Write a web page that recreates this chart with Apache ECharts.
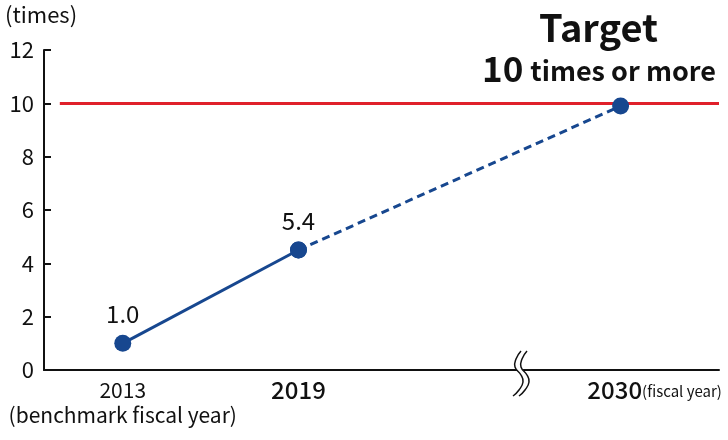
<!DOCTYPE html>
<html><head><meta charset="utf-8">
<script src="https://cdn.jsdelivr.net/npm/echarts@6/dist/echarts.min.js"></script>
<style>html,body{margin:0;padding:0;background:#fff}#c{width:728px;height:440px}</style>
</head><body><div id="c"></div>
<script>
const years = [2013, 2019, 2030];
const values = [1.0, 4.5, 9.9];
const pointLabels = ['1.0', '5.4', ''];
const targetValue = 10;
const yTicks = [0, 2, 4, 6, 8, 10, 12];
const F = '"Noto Sans CJK JP","Noto Sans",sans-serif';
const BLUE = '#17478f';
const RED = '#e0202a';
const xMin = 2010.31, xMax = 2033.36;

const solidData = years.slice(0, 2).map((y, i) => [y, values[i]]);
const dashData = years.slice(1).map((y, i) => [y, values[i + 1]]);

const chart = echarts.init(document.getElementById('c'));
chart.setOption({
  animation: false,
  textStyle: { fontFamily: F },
  grid: { left: 44, right: 9, top: 50, bottom: 70, containLabel: false },
  xAxis: {
    type: 'value', min: xMin, max: xMax,
    splitLine: { show: false },
    axisLine: { lineStyle: { color: '#111', width: 2 } },
    axisTick: { show: false },
    axisLabel: {
      customValues: years, margin: 8, color: '#111', fontFamily: F,
      formatter: v => {
        if (v === 2013) return '{a|2013}\n{b|(benchmark fiscal year)}';
        if (v === 2019) return '{c|2019}';
        return '{d|2030}{e|(fiscal year)}';
      },
      rich: {
        a: { fontSize: 21, fontFamily: F, color: '#111', lineHeight: 24 },
        b: { fontSize: 21, fontFamily: F, color: '#111', lineHeight: 26 },
        c: { fontSize: 24, fontFamily: F, fontWeight: 500, color: '#111', lineHeight: 24 },
        d: { fontSize: 24, fontFamily: F, fontWeight: 500, color: '#111', lineHeight: 24, padding: [0, 0, 0, 68] },
        e: { fontSize: 15, fontFamily: F, color: '#111', lineHeight: 24, padding: [3, 0, 0, 0] }
      }
    }
  },
  yAxis: {
    type: 'value', min: 0, max: 12, interval: 2,
    splitLine: { show: false },
    axisLine: { show: true, lineStyle: { color: '#111', width: 2 } },
    axisTick: { show: true, inside: true, length: 7, lineStyle: { color: '#111', width: 2 } },
    axisLabel: { fontSize: 22, color: '#111', margin: 10, fontFamily: F }
  },
  graphic: [
    { type: 'text', left: 5, top: 4, style: { text: '(times)', fontSize: 22, fontFamily: F, fill: '#111' } },
    { type: 'text', left: 539, top: 9, style: { text: 'Target', fontSize: 38, fontWeight: 'bold', fontFamily: F, fill: '#111' } },
    { type: 'text', left: 482, top: 51, style: { text: '{n|10}{t|times or more}', fontFamily: F, fill: '#111',
      rich: { n: { fontSize: 35, fontWeight: 'bold', fontFamily: F, fill: '#111' },
              t: { fontSize: 27, fontWeight: 'bold', fontFamily: F, fill: '#111', padding: [4, 0, 0, 7] } } } },
    { type: 'polygon', z: 100, shape: { points: [[521,351],[516,360],[515,367],[521,375],[523,382],[519,390],[513,396],[519,396],[525,390],[529,382],[527,375],[521,367],[522,360],[527,351]] }, style: { fill: '#fff' } },
    { type: 'polyline', z: 101, shape: { smooth: 0.5, points: [[521,351],[516,359],[515,367],[521,375],[523,382],[519,390],[513,396]] }, style: { stroke: '#111', lineWidth: 1.5, fill: null } },
    { type: 'polyline', z: 101, shape: { smooth: 0.5, points: [[527,351],[522,359],[521,367],[527,375],[529,382],[525,390],[519,396]] }, style: { stroke: '#111', lineWidth: 1.5, fill: null } }
  ],
  series: [
    {
      type: 'line', data: solidData, symbol: 'circle', symbolSize: 17, z: 5,
      lineStyle: { color: BLUE, width: 3 }, itemStyle: { color: BLUE },
      label: { show: true, position: 'top', distance: 9, fontSize: 24, color: '#111', fontFamily: F,
        formatter: p => pointLabels[p.dataIndex] },
      markLine: {
        silent: true, symbol: 'none', label: { show: false },
        lineStyle: { color: RED, width: 3, type: 'solid' },
        data: [[{ xAxis: 2010.85, yAxis: targetValue }, { xAxis: xMax, yAxis: targetValue }]]
      }
    },
    {
      type: 'line', data: dashData, symbol: 'circle', symbolSize: 17, z: 6,
      lineStyle: { color: BLUE, width: 3, type: [8, 5] }, itemStyle: { color: BLUE },
      label: { show: false }
    }
  ]
});
</script></body></html>
